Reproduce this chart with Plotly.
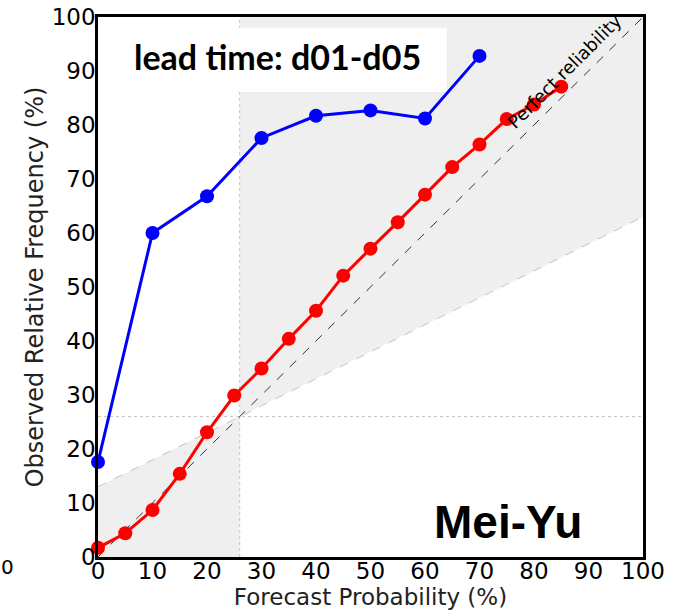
import plotly.graph_objects as go

# ---- data ----
clim = 26.0  # climatological frequency (%)
blue_x = [0, 10, 20, 30, 40, 50, 60, 70]
blue_y = [17.6, 60.0, 66.8, 77.6, 81.7, 82.7, 81.2, 92.8]
red_x = [0, 5, 10, 15, 20, 25, 30, 35, 40, 45, 50, 55, 60, 65, 70, 75, 80, 85]
red_y = [1.7, 4.4, 8.7, 15.4, 23.1, 29.9, 34.9, 40.4, 45.6, 52.1, 57.1, 62.0,
         67.1, 72.2, 76.4, 81.1, 83.8, 87.1]
ticks = [0, 10, 20, 30, 40, 50, 60, 70, 80, 90, 100]

shade = "#efefef"
guide = "#c4c4c4"

shapes = [
    # skill regions
    dict(type="path", xref="x", yref="y", layer="below", line=dict(width=0),
         fillcolor=shade,
         path=f"M 0 0 L 0 {clim/2} L {clim} {clim} L {clim} 0 Z"),
    dict(type="path", xref="x", yref="y", layer="below", line=dict(width=0),
         fillcolor=shade,
         path=f"M {clim} {clim} L 100 {(100+clim)/2} L 100 100 L {clim} 100 Z"),
    # climatology lines
    dict(type="line", xref="x", yref="y", layer="below", x0=clim, x1=clim, y0=0, y1=100,
         line=dict(color=guide, width=1, dash="dot")),
    dict(type="line", xref="x", yref="y", layer="below", x0=0, x1=100, y0=clim, y1=clim,
         line=dict(color=guide, width=1, dash="dot")),
    # no-skill line
    dict(type="line", xref="x", yref="y", layer="below", x0=0, x1=100,
         y0=clim / 2, y1=(100 + clim) / 2,
         line=dict(color=guide, width=1, dash="dash")),
    # white box behind the lead-time label
    dict(type="rect", xref="x", yref="y", layer="below", x0=1, x1=64, y0=86.1, y1=98.0,
         fillcolor="white", line=dict(width=0)),
    # perfect reliability
    dict(type="line", xref="x", yref="y", layer="below", x0=0, x1=100, y0=0, y1=100,
         line=dict(color="#333333", width=1, dash="dash")),
]

fig = go.Figure()
fig.add_trace(go.Scatter(
    x=blue_x, y=blue_y, mode="lines+markers",
    line=dict(color="#0000ff", width=3),
    marker=dict(color="#0000ff", size=14), showlegend=False, cliponaxis=False))
fig.add_trace(go.Scatter(
    x=red_x, y=red_y, mode="lines+markers",
    line=dict(color="#ff0000", width=3),
    marker=dict(color="#ff0000", size=14), showlegend=False, cliponaxis=False))

axis_common = dict(
    range=[0, 100], tickvals=ticks, ticktext=[str(t) for t in ticks],
    showgrid=False, zeroline=False, showline=True, linecolor="black",
    linewidth=2.5, mirror=True, ticks="", automargin=False,
    tickfont=dict(family="DejaVu Sans", size=23, color="black"),
)

fig.update_layout(
    width=682, height=610,
    margin=dict(l=98, r=39, t=17, b=53),
    paper_bgcolor="white", plot_bgcolor="white",
    shapes=shapes,
    xaxis=dict(**axis_common, ticklabelstandoff=-8,
               title=dict(text="Forecast Probability (%)", standoff=6,
                          font=dict(family="DejaVu Sans", size=23, color="#222"))),
    yaxis=dict(**axis_common, ticklabelstandoff=-5,
               title=dict(text="Observed Relative Frequency (%)", standoff=2,
                          font=dict(family="DejaVu Sans", size=24, color="#222"))),
    annotations=[
        dict(x=33, y=92.7, xref="x", yref="y", text="<b>lead time: d01-d05</b>",
             showarrow=False,
             font=dict(family="Lato", size=34, color="black")),
        dict(x=75.2, y=6.5, xref="x", yref="y", text="<b>Mei-Yu</b>",
             showarrow=False,
             font=dict(family="Liberation Sans", size=46, color="black")),
        dict(x=85.5, y=90, xref="x", yref="y", text="Perfect reliability",
             showarrow=False, textangle=-45,
             font=dict(family="DejaVu Sans", size=18, color="black")),
        dict(x=-98 / 545, y=-0.0185, xref="paper", yref="paper", text="0",
             showarrow=False, xanchor="left", yanchor="middle", borderpad=0,
             font=dict(family="DejaVu Sans", size=20, color="black")),
    ],
)

fig.write_html("out.html")
